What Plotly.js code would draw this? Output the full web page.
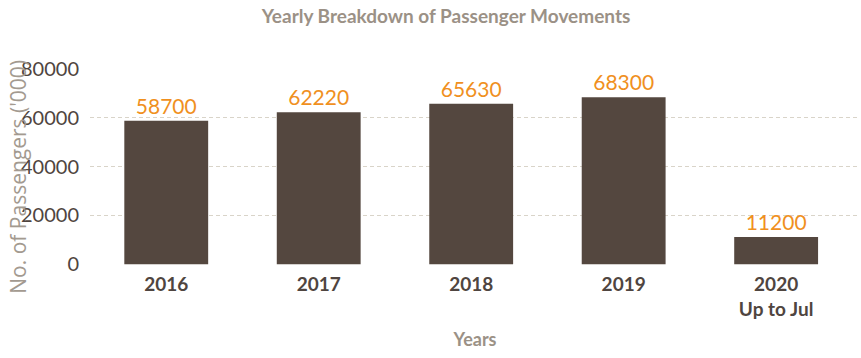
<!DOCTYPE html>
<html><head><meta charset="utf-8">
<script src="https://cdn.plot.ly/plotly-3.0.1.min.js"></script>
<style>html,body{margin:0;padding:0;background:#fff}</style>
</head><body>
<div id="chart" style="width:861px;height:358px"></div>
<script>
const categories = ["2016", "2017", "2018", "2019", "2020<br>Up to Jul"];
const passengers = [58700, 62220, 65630, 68300, 11200];
const yTicks = [0, 20000, 40000, 60000, 80000];

Plotly.newPlot("chart", [{
  type: "bar",
  x: categories,
  y: passengers,
  text: passengers.map(String),
  textposition: "outside",
  cliponaxis: false,
  textfont: {family: "Lato", size: 21, color: "#f0901e"},
  marker: {color: "#54473f"},
  hoverinfo: "x+y"
}], {
  width: 861, height: 358,
  margin: {l: 90, r: 1, t: 68, b: 93},
  paper_bgcolor: "#fff", plot_bgcolor: "#fff",
  bargap: 0.45,
  title: {text: "<b>Yearly Breakdown of Passenger Movements</b>", x: 0.518, xanchor: "center", y: 0.953, yanchor: "middle",
          font: {family: "Lato", size: 19, color: "#9b9186"}},
  xaxis: {
    type: "category",
    range: [-0.5, 4.55],
    tickfont: {family: "Lato", size: 19, color: "#4f4540", weight: "bold"},
    ticklabelstandoff: 6,
    title: {text: "<b>Years</b>", font: {family: "Lato", size: 18, color: "#9b9186"}, standoff: 14},
    showgrid: false, zeroline: false, showline: false, ticks: ""
  },
  yaxis: {
    range: [-300, 80300],
    tickvals: yTicks,
    ticktext: yTicks.map(String),
    tickfont: {family: "Lato", size: 20, color: "#4f4540"},
    showgrid: true, gridcolor: "#d9d4c9", griddash: "4px,3px", gridwidth: 1,
    zeroline: false, showline: false, ticks: "", ticklabelstandoff: 10
  },
  annotations: [{
    text: "No. of Passengers ('000)", xref: "paper", yref: "paper",
    x: -0.093, y: 0.45, xanchor: "center", yanchor: "middle", textangle: -90,
    showarrow: false, font: {family: "Open Sans", size: 21, color: "#a39a90"}
  }],
  showlegend: false
}, {displayModeBar: false});
</script>
</body></html>
